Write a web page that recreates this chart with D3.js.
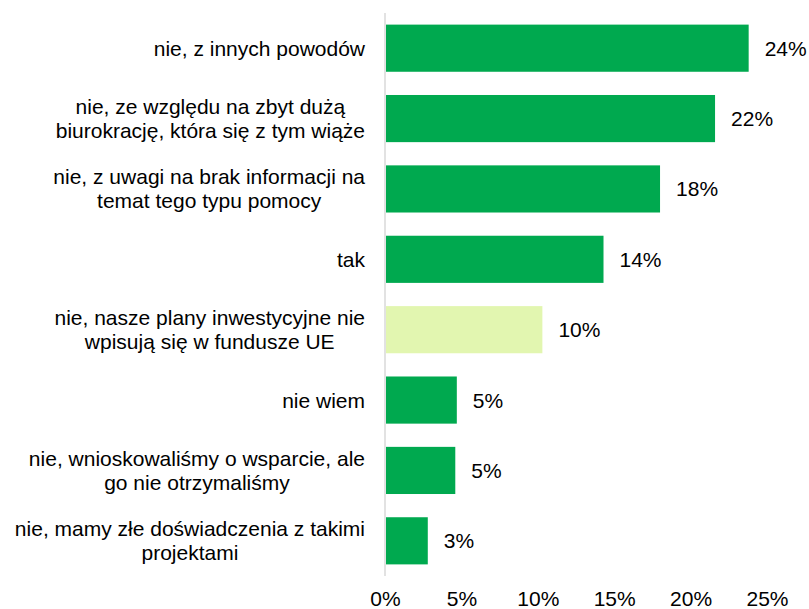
<!DOCTYPE html>
<html>
<head>
  <meta charset="utf-8">
  <title>Wsparcie z funduszy UE</title>
  <script src="https://d3js.org/d3.v7.min.js"></script>
  <style>
    body { margin: 0; background: #fff; }
    text { font-family: "Liberation Sans", Arial, sans-serif; fill: #000; }
  </style>
</head>
<body>
<svg class="svgchart" width="809" height="609"></svg>

<script>

// categories, each one split into the lines as drawn
var categories = [
  ["nie, z innych powodów"],
  ["nie, ze względu na zbyt dużą", "biurokrację, która się z tym wiąże"],
  ["nie, z uwagi na brak informacji na", "temat tego typu pomocy"],
  ["tak"],
  ["nie, nasze plany inwestycyjne nie", "wpisują się w fundusze UE"],
  ["nie wiem"],
  ["nie, wnioskowaliśmy o wsparcie, ale", "go nie otrzymaliśmy"],
  ["nie, mamy złe doświadczenia z takimi", "projektami"]
];
var values = [23.8, 21.6, 18.0, 14.3, 10.3, 4.7, 4.6, 2.8];
var highlighted = [false, false, false, false, true, false, false, false];
var ticks = [0, 5, 10, 15, 20, 25];

var fontSize = 21,
    lineHeight = 24;

var margin = {top: 13, right: 42, bottom: 33, left: 385},
    width = 809 - margin.left - margin.right,
    height = 609 - margin.top - margin.bottom;

var data = categories.map(function(c, i) {
  return {id: i, lines: c, value: values[i], light: highlighted[i]};
});

var x = d3.scaleLinear()
    .domain([0, 25])
    .range([0, width]);

var y = d3.scaleBand()
    .domain(data.map(function(d) { return d.id; }))
    .range([0, height])
    .paddingInner(0.33)
    .paddingOuter(0.165);

var chart = d3.select(".svgchart").append("g")
    .attr("transform", "translate(" + margin.left + "," + margin.top + ")");

chart.selectAll(".bar")
    .data(data)
  .enter().append("rect")
    .attr("class", "bar")
    .attr("x", x(0) + 1)
    .attr("y", function(d) { return y(d.id); })
    .attr("width", function(d) { return x(d.value) - x(0) - 1; })
    .attr("height", y.bandwidth())
    .attr("fill", function(d) { return d.light ? "#e2f6b0" : "#00a94f"; });

// vertical axis line
chart.append("line")
    .attr("x1", x(0)).attr("x2", x(0))
    .attr("y1", 0).attr("y2", height)
    .attr("stroke", "#d9d9d9")
    .attr("stroke-width", 1.5);

// value labels
chart.selectAll(".value")
    .data(data)
  .enter().append("text")
    .attr("class", "value")
    .attr("x", function(d) { return x(d.value) + 16; })
    .attr("y", function(d) { return y(d.id) + y.bandwidth() / 2; })
    .attr("dy", "0.36em")
    .style("font-size", fontSize + "px")
    .text(function(d) { return Math.round(d.value) + "%"; });

// category labels: block right aligned, lines centred in the block
var labels = chart.selectAll(".cat")
    .data(data)
  .enter().append("text")
    .attr("class", "cat")
    .style("font-size", fontSize + "px")
    .attr("text-anchor", "middle");

labels.each(function(d) {
  var t = d3.select(this);
  var n = d.lines.length;
  var cy = y(d.id) + y.bandwidth() / 2;
  var spans = t.selectAll("tspan")
      .data(d.lines)
    .enter().append("tspan")
      .attr("y", function(l, i) { return cy + (i - (n - 1) / 2) * lineHeight; })
      .attr("dy", "0.36em")
      .text(function(l) { return l; });
  var maxW = 0;
  spans.each(function() { maxW = Math.max(maxW, this.getComputedTextLength()); });
  spans.attr("x", -20 - maxW / 2);
});

// x axis
var xAxis = chart.append("g")
    .attr("class", "x axis")
    .attr("transform", "translate(0," + height + ")")
    .call(d3.axisBottom(x).tickValues(ticks).tickSize(0).tickFormat(function(d) { return d + "%"; }));

xAxis.select(".domain").remove();
xAxis.selectAll("text")
    .attr("dy", 0)
    .attr("y", 30)
    .style("font-size", fontSize + "px")
    .style("font-family", "'Liberation Sans', Arial, sans-serif")
    .attr("fill", "#000");

</script>
</body>
</html>
